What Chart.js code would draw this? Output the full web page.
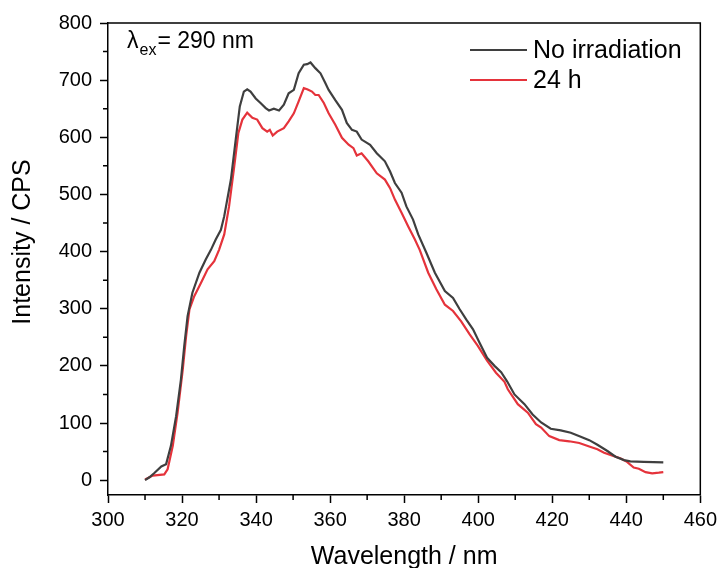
<!DOCTYPE html>
<html>
<head>
<meta charset="utf-8">
<script src="https://cdn.jsdelivr.net/npm/chart.js@4"></script>
<style>
  html, body { margin: 0; padding: 0; background: #fff; }
  #wrap { width: 722px; height: 568px; position: relative; }
</style>
</head>
<body>
<div id="wrap"><canvas id="c" width="722" height="568"></canvas></div>
<script>
// ---- data ----
const seriesLabels = ["No irradiation", "24 h"];
const xTitle = "Wavelength / nm";
const yTitle = "Intensity / CPS";

const noIrrWavelength = [310.0, 311.2, 312.6, 314.4, 315.7, 317.0, 318.4, 319.7, 320.6, 321.5, 322.8, 324.7, 326.4, 327.8, 329.1, 330.5, 331.4, 333.2, 334.5, 335.6, 336.7, 337.6, 338.5, 339.9, 341.2, 342.6, 343.5, 344.8, 346.2, 347.5, 348.8, 350.2, 351.5, 352.9, 353.8, 354.7, 356.0, 357.4, 358.7, 359.6, 361.4, 363.2, 364.5, 365.9, 367.2, 368.5, 370.8, 372.6, 374.8, 376.2, 377.5, 379.3, 380.6, 382.4, 383.8, 386.0, 388.3, 391.0, 393.2, 395.0, 396.8, 398.6, 400.4, 402.4, 404.4, 406.2, 407.8, 409.8, 412.5, 414.7, 417.0, 419.6, 422.3, 425.0, 427.7, 430.0, 432.2, 434.9, 437.1, 439.4, 441.1, 444.7, 450.0];
const noIrrIntensity = [0, 5, 13, 24, 28, 60, 112, 176, 235, 287, 328, 363, 386, 403, 421, 438, 462, 526, 596, 654, 680, 684, 680, 668, 660, 651, 647, 650, 647, 657, 677, 683, 712, 727, 728, 731, 721, 712, 695, 683, 665, 648, 625, 613, 610, 596, 587, 572, 558, 540, 520, 503, 479, 456, 430, 398, 363, 331, 319, 299, 281, 264, 240, 214, 200, 189, 173, 150, 133, 115, 101, 90, 87, 83, 76, 70, 62, 51, 41, 35, 33, 32, 31];

const h24Wavelength = [310.0, 312.1, 315.2, 316.1, 317.5, 318.8, 320.2, 321.1, 322.0, 323.3, 325.1, 326.9, 328.7, 330.0, 331.4, 332.7, 334.1, 335.2, 336.3, 337.6, 339.0, 340.3, 341.7, 343.0, 343.7, 344.5, 345.7, 347.5, 348.8, 350.2, 351.5, 352.9, 353.8, 355.1, 356.0, 356.9, 358.3, 359.6, 361.4, 363.2, 365.0, 366.3, 367.2, 368.5, 370.3, 372.6, 374.8, 376.2, 377.5, 379.3, 381.1, 382.9, 384.2, 386.5, 388.7, 391.0, 393.2, 395.4, 397.7, 399.9, 402.4, 404.8, 407.1, 408.0, 410.7, 413.4, 415.6, 417.0, 419.2, 421.9, 424.6, 427.3, 430.0, 432.2, 434.0, 436.7, 438.5, 440.2, 442.0, 443.4, 445.2, 447.0, 448.8, 450.0];
const h24Intensity = [1, 8, 10, 19, 60, 118, 194, 252, 299, 322, 345, 369, 383, 403, 430, 479, 549, 607, 631, 643, 634, 631, 616, 610, 613, 603, 610, 616, 628, 642, 663, 686, 684, 680, 674, 674, 660, 642, 622, 599, 587, 581, 568, 572, 558, 537, 526, 511, 491, 468, 444, 421, 403, 363, 334, 307, 296, 278, 255, 235, 209, 188, 172, 159, 133, 118, 98, 92, 77, 70, 68, 65, 59, 54, 48, 42, 38, 32, 22, 20, 14, 12, 13, 14];

const xTicks = [300, 320, 340, 360, 380, 400, 420, 440, 460];
const xMinorTicks = [310, 330, 350, 370, 390, 410, 430, 450];
const yTicks = [0, 100, 200, 300, 400, 500, 600, 700, 800];
const yMinorTicks = [50, 150, 250, 350, 450, 550, 650, 750];

// ---- styles ----
const colors = ["#3f3f3f", "#e5333b"];
const FONT = "'Liberation Sans', Arial, sans-serif";

function pairs(xs, ys) { return xs.map((x, i) => ({ x: x, y: ys[i] })); }

const framePlugin = {
  id: 'frameAndExtras',
  afterDraw(chart) {
    const { ctx, chartArea: a, scales: { x, y } } = chart;
    ctx.save();
    ctx.strokeStyle = '#000';
    ctx.lineWidth = 1.5;
    // frame top and right
    ctx.beginPath();
    ctx.moveTo(a.left, a.top); ctx.lineTo(a.right, a.top); ctx.lineTo(a.right, a.bottom);
    ctx.stroke();
    // minor ticks
    ctx.beginPath();
    xMinorTicks.forEach(v => { const px = x.getPixelForValue(v); ctx.moveTo(px, a.bottom); ctx.lineTo(px, a.bottom + 5); });
    yMinorTicks.forEach(v => { const py = y.getPixelForValue(v); ctx.moveTo(a.left - 5, py); ctx.lineTo(a.left, py); });
    ctx.stroke();

    // y axis title
    ctx.save();
    ctx.translate(23, 242);
    ctx.rotate(-Math.PI / 2);
    ctx.fillStyle = '#000';
    ctx.font = "25px " + FONT;
    ctx.textAlign = 'center';
    ctx.textBaseline = 'middle';
    ctx.fillText(yTitle, 0, 0);
    ctx.restore();

    // legend
    const rows = [50, 80];
    chart.data.datasets.forEach((ds, i) => {
      ctx.strokeStyle = ds.borderColor;
      ctx.lineWidth = 2.2;
      ctx.beginPath(); ctx.moveTo(470, rows[i]); ctx.lineTo(527, rows[i]); ctx.stroke();
      ctx.fillStyle = '#000';
      ctx.font = "25px " + FONT;
      ctx.textBaseline = 'middle';
      ctx.textAlign = 'left';
      ctx.fillText(ds.label, 533, rows[i] + 1);
    });

    // annotation λex = 290 nm
    ctx.fillStyle = '#000';
    ctx.textBaseline = 'alphabetic';
    ctx.textAlign = 'left';
    ctx.font = "23px " + FONT;
    ctx.fillText("λ", 127, 48);
    let w = ctx.measureText("λ").width;
    ctx.font = "16px " + FONT;
    ctx.fillText("ex", 127 + w + 1, 55);
    let w2 = ctx.measureText("ex").width;
    ctx.font = "23px " + FONT;
    ctx.fillText("= 290 nm", 127 + w + 1 + w2 + 1, 48);
    ctx.restore();
  }
};

const axisCommon = {
  type: 'linear',
  grid: { drawOnChartArea: false, tickLength: 8, tickColor: '#000', tickWidth: 1.5 },
  border: { display: true, color: '#000', width: 1.5 },
};

new Chart(document.getElementById('c'), {
  type: 'line',
  data: {
    datasets: [
      { label: seriesLabels[0], data: pairs(noIrrWavelength, noIrrIntensity), borderColor: colors[0], borderWidth: 2.2, pointRadius: 0, tension: 0, fill: false },
      { label: seriesLabels[1], data: pairs(h24Wavelength, h24Intensity), borderColor: colors[1], borderWidth: 2.2, pointRadius: 0, tension: 0, fill: false }
    ]
  },
  options: {
    responsive: false,
    animation: false,
    devicePixelRatio: 1,
    layout: { padding: { top: 23, right: 18, left: 0, bottom: 0 } },
    plugins: { legend: { display: false }, tooltip: { enabled: false } },
    scales: {
      x: Object.assign({}, axisCommon, {
        min: 300, max: 460,
        afterBuildTicks: s => { s.ticks = xTicks.map(v => ({ value: v })); },
        afterFit: s => { s.height = 73; },
        ticks: { color: '#000', font: { size: 20, family: FONT }, padding: 5, maxRotation: 0, autoSkip: false },
        title: { display: true, text: xTitle, color: '#000', font: { size: 25, family: FONT, lineHeight: 1.2 }, padding: { top: 0, bottom: -4 } }
      }),
      y: Object.assign({}, axisCommon, {
        min: -26, max: 800,
        afterBuildTicks: s => { s.ticks = yTicks.map(v => ({ value: v })); },
        afterFit: s => { s.width = 108; },
        ticks: { color: '#000', font: { size: 20, family: FONT }, padding: 8, autoSkip: false },
        title: { display: false }
      })
    }
  },
  plugins: [framePlugin]
});
</script>
</body>
</html>
